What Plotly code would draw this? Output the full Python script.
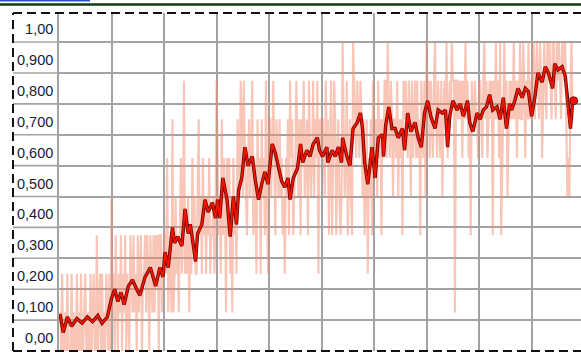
import plotly.graph_objects as go

# ---------------- data ----------------
y_tick_vals = [0.0, 0.1, 0.2, 0.3, 0.4, 0.5, 0.6, 0.7, 0.8, 0.9, 1.0]
y_tick_text = ["0,00", "0,100", "0,200", "0,300", "0,400", "0,500",
               "0,600", "0,700", "0,800", "0,900", "1,00"]

# raw per-episode values (in eighths: 0..8)
raw_eighths = [
    1,0,2,0,0,1,0,2,0,0, 0,2,0,1,0,0,2,0,1,0, 2,0,0,1,2,0,0,1,0,2,
    0,1,2,0,0,3,0,1,2,0, 2,0,1,0,2,1,0,2,0,4, 1,2,0,3,1,0,2,1,3,0,
    2,1,3,0,2,1,0,3,2,1, 3,1,2,0,3,1,2,3,0,2, 2,3,1,3,2,0,3,2,1,3,
    1,3,2,3,0,3,3,1,2,3, 3,2,5,1,2,3,1,6,1,2, 4,2,3,1,3,5,2,3,7,2,
    3,2,4,1,3,2,5,3,4,2, 2,4,6,3,4,2,5,3,4,2, 4,3,5,2,3,3,4,2,3,7,
    5,3,4,2,6,3,5,4,1,5, 3,5,2,4,1,5,3,4,2,6, 5,4,7,6,4,7,5,4,3,5,
    6,4,5,7,3,5,4,2,6,4, 5,2,6,4,5,3,7,4,2,6, 6,4,5,7,5,3,6,5,4,6,
    4,5,3,4,2,5,4,6,3,7, 5,6,3,4,5,7,5,4,6,3, 6,5,7,4,5,6,3,7,5,4,
    5,7,4,6,5,7,2,6,5,6, 6,5,4,7,5,6,3,5,7,3, 5,7,6,3,5,6,4,3,4,8,
    6,4,5,7,3,5,6,4,3,8, 7,6,5,7,6,5,7,6,4,6, 3,5,6,2,5,4,6,3,7,6,
    5,6,4,7,5,6,3,6,5,7, 7,5,8,6,5,7,6,4,6,6, 5,7,4,6,5,6,3,7,6,7,
    6,5,7,6,4,7,5,6,7,5, 7,5,6,3,7,6,5,7,4,8, 6,7,5,7,6,5,7,8,6,5,
    7,6,5,7,4,6,7,6,8,5, 6,7,6,8,7,7,1,7,7,6, 7,6,7,5,7,6,8,6,7,5,
    6,3,7,6,6,7,6,6,5,7, 7,6,5,7,8,6,7,5,6,7, 6,7,3,7,6,8,6,7,5,8,
    3,5,6,8,6,7,4,6,7,6, 7,6,8,6,7,5,7,6,8,6, 6,8,7,5,7,6,8,6,7,6,
    7,8,6,7,8,7,6,8,7,5, 7,8,7,6,8,7,8,7,6,8, 8,7,6,8,7,8,7,6,8,8,
    7,8,6,4,5,4,7,8,6,6,
]
raw_episodes = list(range(1, len(raw_eighths) + 1))
raw_values = [k / 8 for k in raw_eighths]

# smoothed series
smooth_episodes = [
    1, 4, 8, 12, 17, 22, 27, 32, 37, 41, 46, 50, 53, 56, 59, 62, 66, 70, 74, 77,
    82, 87, 92, 96, 99, 101, 104, 108, 110, 113, 117, 120, 123, 125, 128, 130,
    132, 136, 139, 142, 146, 149, 151, 153, 156, 160, 163, 166, 169, 171, 174,
    177, 180, 184, 187, 190, 193, 196, 199, 203, 206, 209, 212, 215, 218, 220,
    223, 227, 230, 232, 236, 239, 242, 246, 248, 251, 255, 256, 260, 263, 266,
    269, 270, 274, 277, 280, 284, 287, 289, 291, 294, 298, 301, 304, 308, 309,
    311, 314, 317, 320, 323, 327, 329, 332, 335, 339, 342, 345, 348, 351, 354,
    358, 361, 365, 368, 370, 372, 375, 379, 382, 385, 389, 391, 394, 398, 401,
    404, 407, 410, 413, 417, 420, 423, 426, 429, 431, 434, 437, 441, 444, 447,
    450, 453, 456, 460, 463, 466, 470, 472, 475, 479, 482, 485, 487, 489, 490,
]
smooth_values = [
    0.12, 0.06, 0.11, 0.08, 0.105, 0.09, 0.11, 0.095, 0.115, 0.09, 0.11, 0.17,
    0.20, 0.16, 0.19, 0.15, 0.21, 0.23, 0.20, 0.18, 0.24, 0.27, 0.21, 0.27, 0.24,
    0.32, 0.27, 0.40, 0.35, 0.37, 0.34, 0.46, 0.38, 0.41, 0.34, 0.29, 0.38, 0.41,
    0.49, 0.45, 0.48, 0.43, 0.49, 0.43, 0.56, 0.49, 0.37, 0.50, 0.41, 0.52, 0.56,
    0.66, 0.60, 0.63, 0.55, 0.49, 0.54, 0.58, 0.54, 0.67, 0.64, 0.60, 0.55, 0.53,
    0.56, 0.49, 0.56, 0.59, 0.67, 0.61, 0.65, 0.63, 0.67, 0.69, 0.65, 0.63, 0.66,
    0.61, 0.65, 0.63, 0.66, 0.61, 0.69, 0.63, 0.60, 0.72, 0.74, 0.77, 0.72, 0.61,
    0.54, 0.66, 0.56, 0.69, 0.70, 0.63, 0.73, 0.79, 0.72, 0.72, 0.69, 0.72, 0.65,
    0.77, 0.71, 0.74, 0.69, 0.66, 0.77, 0.81, 0.76, 0.72, 0.78, 0.77, 0.78, 0.66,
    0.76, 0.81, 0.78, 0.80, 0.76, 0.81, 0.74, 0.71, 0.77, 0.75, 0.78, 0.79, 0.83,
    0.78, 0.79, 0.75, 0.82, 0.72, 0.80, 0.78, 0.81, 0.85, 0.82, 0.85, 0.84, 0.76,
    0.82, 0.90, 0.87, 0.92, 0.90, 0.85, 0.93, 0.91, 0.92, 0.89, 0.77, 0.72, 0.81,
    0.81,
]

# ---------------- styling ----------------
W, H = 581, 354
ML, MR, MT, MB = 59, 0, 13, 3
plot_w = W - ML - MR
plot_h = H - MT - MB
GRID = "#a3a3a3"
X_MAX = 497
Y_MAX = 1.094

fig = go.Figure()

fig.add_trace(go.Scatter(
    x=raw_episodes, y=raw_values, mode="lines",
    line=dict(color="rgba(242,140,112,0.5)", width=2.1),
    hoverinfo="skip", showlegend=False,
))
fig.add_trace(go.Scatter(
    x=smooth_episodes, y=smooth_values, mode="lines",
    line=dict(color="#6a0500", width=3.4), hoverinfo="skip", showlegend=False,
))
fig.add_trace(go.Scatter(
    x=smooth_episodes, y=smooth_values, mode="lines",
    line=dict(color="#f21500", width=1.8), hoverinfo="skip", showlegend=False,
))
fig.add_trace(go.Scatter(
    x=[smooth_episodes[-1]], y=[smooth_values[-1]], mode="markers",
    marker=dict(color="#f01400", size=8, line=dict(color="#8a0000", width=1)),
    hoverinfo="skip", showlegend=False,
))

left_px = 13
x_left = (left_px - ML) / plot_w

shapes = []
# gridline extensions into the label column
for v in y_tick_vals:
    if v > 0:
        shapes.append(dict(type="line", xref="paper", yref="y",
                           x0=x_left, x1=0, y0=v, y1=v,
                           line=dict(color=GRID, width=1.6), layer="below"))
# dashed frame
dash_line = dict(color="#111111", width=2, dash="9px,5px")
shapes.append(dict(type="line", xref="paper", yref="paper",
                   x0=x_left, x1=1.0, y0=1.0, y1=1.0, line=dash_line))
shapes.append(dict(type="line", xref="paper", yref="paper",
                   x0=x_left, x1=1.0, y0=0.0, y1=0.0, line=dash_line))
shapes.append(dict(type="line", xref="paper", yref="paper",
                   x0=x_left, x1=x_left, y0=0.0, y1=1.0, line=dash_line))
# dark green rule at top and clipped blue link underline
y_green = (H - MB - 4.5) / plot_h
shapes.append(dict(type="line", xref="paper", yref="paper",
                   x0=-ML / plot_w, x1=1.0, y0=y_green, y1=y_green,
                   line=dict(color="#0f3d12", width=2.5)))
y_blue = (H - MB - 0.8) / plot_h
shapes.append(dict(type="line", xref="paper", yref="paper",
                   x0=-ML / plot_w, x1=(90 - ML) / plot_w, y0=y_blue, y1=y_blue,
                   line=dict(color="#2a4fd0", width=1.6)))

fig.update_layout(
    width=W, height=H,
    margin=dict(l=ML, r=MR, t=MT, b=MB, pad=0, autoexpand=False),
    paper_bgcolor="white", plot_bgcolor="white",
    shapes=shapes,
    xaxis=dict(range=[0, X_MAX], tick0=0, dtick=50, showgrid=True,
               gridcolor=GRID, gridwidth=1.6, showticklabels=False,
               zeroline=False, ticks="", showline=False, fixedrange=True,
               automargin=False),
    yaxis=dict(range=[0, Y_MAX], tickvals=y_tick_vals, ticktext=y_tick_text,
               showgrid=True, gridcolor=GRID, gridwidth=1.6, zeroline=False,
               ticks="", showline=True, linecolor=GRID, linewidth=1.6,
               ticklabelshift=-13, ticklabelstandoff=1, automargin=False,
               tickfont=dict(family="Liberation Sans", size=14.5, color="#161c36"),
               fixedrange=True),
)

fig.write_html(
    "out.html",
    config={"displayModeBar": False},
    post_script="document.body.style.margin='0';document.body.style.overflow='hidden';",
)
